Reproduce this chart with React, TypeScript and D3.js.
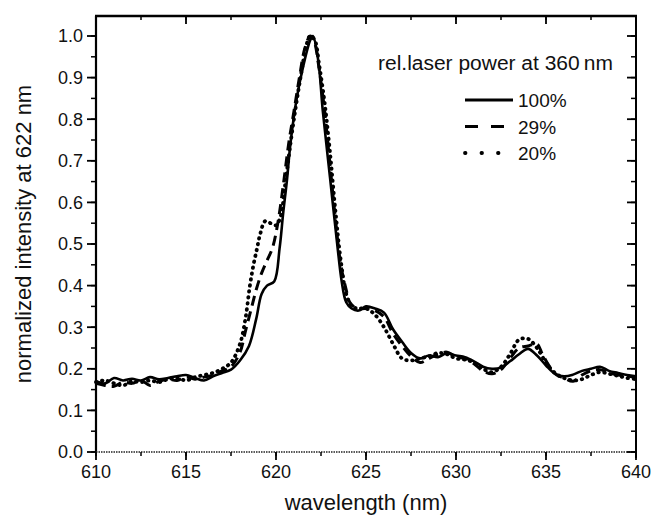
import React from "react";
import * as d3 from "d3";

const wl100 = [610,610.5,611,611.5,612,612.5,613,613.5,614,614.5,615,615.5,616,616.5,617,617.5,618,618.5,618.9,619.2,619.5,619.9,620.2,620.4,620.6,620.8,621.15,621.5,621.9,622.05,622.35,622.6,623.0,623.4,623.65,623.9,624.2,624.6,625.0,625.5,626.0,626.5,627.0,627.5,628.0,628.5,629.0,629.5,630.0,630.5,631.0,631.5,632.0,632.5,633.0,633.5,634.0,634.5,635.0,635.5,636.0,636.5,637.0,637.5,638.0,638.5,639.0,639.5,640.0];
const v100 = [0.170,0.165,0.178,0.172,0.176,0.172,0.180,0.175,0.178,0.182,0.185,0.178,0.172,0.182,0.190,0.198,0.220,0.255,0.320,0.380,0.400,0.410,0.490,0.575,0.650,0.740,0.850,0.925,0.990,1.000,0.940,0.820,0.660,0.500,0.410,0.360,0.345,0.340,0.350,0.345,0.335,0.295,0.265,0.238,0.225,0.232,0.228,0.238,0.232,0.228,0.218,0.205,0.200,0.203,0.218,0.235,0.248,0.232,0.208,0.188,0.182,0.186,0.195,0.200,0.205,0.195,0.190,0.185,0.182];

const wl29 = [610,610.5,611,611.5,612,612.5,613,613.5,614,614.5,615,615.5,616,616.5,617,617.5,618,618.3,618.6,618.9,619.2,619.5,619.8,620.1,620.4,620.7,621.0,621.3,621.6,621.9,622.1,622.4,622.7,623.0,623.3,623.6,623.9,624.1,624.5,625.0,625.5,626.0,626.5,627.0,627.5,628.0,628.5,629.0,629.5,630.0,630.5,631.0,631.5,632.0,632.5,633.0,633.5,634.0,634.5,634.8,635.2,635.6,636.0,636.5,637.0,637.5,638.0,638.5,639.0,639.5,640.0];
const v29 = [0.165,0.160,0.158,0.168,0.165,0.172,0.160,0.170,0.175,0.172,0.180,0.175,0.180,0.185,0.195,0.205,0.240,0.290,0.340,0.390,0.430,0.460,0.490,0.550,0.640,0.740,0.820,0.900,0.970,1.000,0.990,0.920,0.820,0.690,0.560,0.450,0.390,0.360,0.345,0.345,0.340,0.325,0.285,0.255,0.230,0.215,0.225,0.235,0.240,0.228,0.225,0.212,0.195,0.188,0.198,0.225,0.250,0.255,0.260,0.235,0.205,0.185,0.178,0.170,0.185,0.195,0.198,0.190,0.185,0.183,0.178];

const wl20 = [610,610.5,611,611.5,612,612.5,613,613.5,614,614.5,615,615.5,616,616.5,617,617.5,618,618.3,618.55,618.75,618.95,619.1,619.4,619.7,620.0,620.25,620.5,620.8,621.1,621.4,621.7,621.9,622.15,622.4,622.7,623.0,623.3,623.6,623.9,624.2,624.6,625.0,625.5,626.0,626.5,627.0,627.5,628.0,628.5,629.0,629.5,630.0,630.5,631.0,631.5,632.0,632.5,633.0,633.5,634.0,634.5,635.0,635.5,636.0,636.5,637.0,637.5,638.0,638.5,639.0,639.5,640.0];
const v20 = [0.168,0.172,0.165,0.160,0.170,0.168,0.172,0.168,0.175,0.178,0.172,0.180,0.185,0.190,0.200,0.215,0.260,0.320,0.400,0.450,0.490,0.520,0.555,0.550,0.545,0.565,0.640,0.740,0.830,0.910,0.980,1.000,0.990,0.930,0.840,0.720,0.580,0.460,0.380,0.350,0.345,0.345,0.330,0.300,0.260,0.225,0.220,0.225,0.230,0.238,0.235,0.225,0.222,0.215,0.200,0.192,0.205,0.235,0.270,0.272,0.250,0.215,0.190,0.178,0.172,0.175,0.185,0.192,0.188,0.183,0.178,0.175];

const xTicks = [610, 615, 620, 625, 630, 635, 640];
const yTicks = [0.0, 0.1, 0.2, 0.3, 0.4, 0.5, 0.6, 0.7, 0.8, 0.9, 1.0];
const legendTitle = "rel.laser power at 360\u2009nm";
const legendLabels = ["100%", "29%", "20%"];

const W = 651, H = 517;
const L = 96, R = 636, T = 16, B = 452;
const FONT = "'Liberation Sans', Arial, sans-serif";

export default function App() {
  const x = d3.scaleLinear().domain([610, 640]).range([L, R]);
  const y = d3.scaleLinear().domain([0, 1.0]).range([B, 36]);
  const line = d3.line<[number, number]>().x(d => x(d[0])).y(d => y(d[1])).curve(d3.curveCatmullRom.alpha(0.5));
  const mk = (a: number[], b: number[]) => a.map((w, i) => [w, b[i]] as [number, number]);
  const series = [
    { d: mk(wl100, v100), dash: "none", w: 2.6, cap: "butt" },
    { d: mk(wl29, v29), dash: "10,6", w: 3, cap: "butt" },
    { d: mk(wl20, v20), dash: "0.5,5.5", w: 3.8, cap: "round" },
  ];
  const legDash = ["none", "13,13", "0.5,16"];
  const minorX = d3.range(610, 640.01, 2.5);
  const minorY = d3.range(0, 1.05, 0.05);
  const yTop = y(1.05) ;
  return (
    <svg width={W} height={H} style={{ position: "absolute", left: 0, top: 0, background: "#fff" }} fontFamily={FONT}>
      <rect x={0} y={0} width={W} height={H} fill="#fff" />
      {series.map((s, i) => (
        <path key={i} d={line(s.d) || ""} fill="none" stroke="#000" strokeWidth={s.w}
          strokeDasharray={s.dash} strokeLinecap={s.cap as any} strokeLinejoin="round" />
      ))}
      {/* frame */}
      <line x1={L} x2={L} y1={T} y2={B} stroke="#000" strokeWidth={2.2} />
      <line x1={R} x2={R} y1={T} y2={B + 6} stroke="#000" strokeWidth={2} />
      <line x1={L - 1} x2={R + 1} y1={T} y2={T} stroke="#000" strokeWidth={2.6} />
      <line x1={L} x2={R} y1={B} y2={B} stroke="#222" strokeWidth={1.6} strokeDasharray="1.5,1" />
      {/* minor ticks */}
      {minorX.map((v, i) => (
        <g key={"mx" + i}>
          <line x1={x(v)} x2={x(v)} y1={B} y2={B + 4} stroke="#000" strokeWidth={1.5} />
          <line x1={x(v)} x2={x(v)} y1={T} y2={T + 4} stroke="#000" strokeWidth={1.5} />
        </g>
      ))}
      {minorY.map((v, i) => (
        <g key={"my" + i}>
          <line x1={L - 5} x2={L} y1={y(v)} y2={y(v)} stroke="#000" strokeWidth={1.5} />
          <line x1={R - 5} x2={R} y1={y(v)} y2={y(v)} stroke="#000" strokeWidth={1.5} />
        </g>
      ))}
      {/* major ticks and labels */}
      {xTicks.map(v => (
        <g key={"x" + v}>
          <line x1={x(v)} x2={x(v)} y1={B} y2={B + 8} stroke="#000" strokeWidth={1.8} />
          <line x1={x(v)} x2={x(v)} y1={T} y2={T + 8} stroke="#000" strokeWidth={1.8} />
          <text x={x(v)} y={478} textAnchor="middle" fontSize={18} fill="#111">{v}</text>
        </g>
      ))}
      {yTicks.map(v => (
        <g key={"y" + v}>
          <line x1={L - 9} x2={L} y1={y(v)} y2={y(v)} stroke="#000" strokeWidth={1.8} />
          <line x1={R - 9} x2={R} y1={y(v)} y2={y(v)} stroke="#000" strokeWidth={1.8} />
          <text x={83} y={y(v)} dy="0.35em" textAnchor="end" fontSize={18} fill="#111">{v.toFixed(1)}</text>
        </g>
      ))}
      <text x={(L + R) / 2} y={510} textAnchor="middle" fontSize={22} fill="#111">wavelength (nm)</text>
      <text transform={`translate(31,${234}) rotate(-90)`} textAnchor="middle" fontSize={22} fill="#111">normalized intensity at 622 nm</text>
      {/* legend */}
      <text x={378} y={70} fontSize={20} fill="#111" textLength={235} lengthAdjust="spacingAndGlyphs">{legendTitle}</text>
      {legendLabels.map((lab, i) => {
        const ly = 100 + i * 26.5;
        return (
          <g key={lab}>
            <line x1={465} x2={513} y1={ly} y2={ly} stroke="#000" strokeWidth={i === 2 ? 3.8 : 3}
              strokeDasharray={legDash[i]} strokeLinecap={i === 2 ? "round" : "butt"} />
            <text x={518} y={ly + 7} fontSize={19} fill="#111">{lab}</text>
          </g>
        );
      })}
    </svg>
  );
}
